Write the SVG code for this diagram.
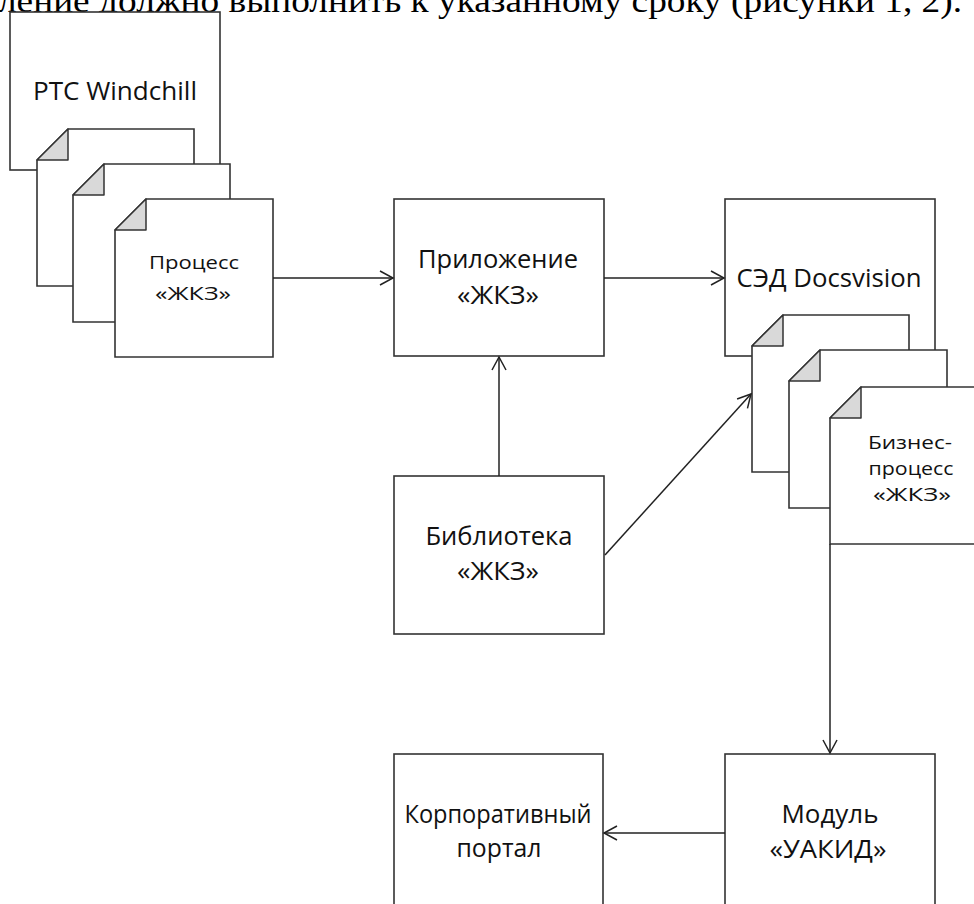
<svg xmlns="http://www.w3.org/2000/svg" width="974" height="904" viewBox="0 0 974 904">
<defs>
<marker id="arr" markerUnits="userSpaceOnUse" markerWidth="16" markerHeight="16" refX="13" refY="7" orient="auto" overflow="visible">
<path d="M0,0 L13,7 L0,14" fill="none" stroke="#222" stroke-width="1.5"/>
</marker>
<style>
.box{fill:#fff;stroke:#333;stroke-width:1.6}
.fold{fill:#d9d9d9;stroke:#333;stroke-width:1.5;stroke-linejoin:round}
.lbl{font-family:"Open Sans","Liberation Sans",sans-serif;fill:#111;text-anchor:middle}
.big{font-size:25px}
.sm{font-size:19px}
.edge{fill:none;stroke:#222;stroke-width:1.5;marker-end:url(#arr)}
.top{font-family:"Liberation Serif","Times New Roman",serif;font-size:34px;fill:#000}
</style>
</defs>
<rect width="974" height="904" fill="#fff"/>
<text class="top" x="-2" y="12" textLength="964" lengthAdjust="spacingAndGlyphs">ление должно выполнить к указанному сроку (рисунки 1, 2).</text>

<g id="ptc">
<rect class="box" x="10" y="12" width="210" height="158"/>
<text class="lbl big" x="115" y="100" textLength="164" lengthAdjust="spacingAndGlyphs">PTC Windchill</text>
</g>
<g id="doc1">
<path class="box" d="M68,129 L194,129 L194,286 L37,286 L37,160 Z"/>
<path class="fold" d="M68,129 L68,160 L37,160 Z"/>
</g>
<g id="doc2">
<path class="box" d="M104,164 L230,164 L230,322 L73,322 L73,195 Z"/>
<path class="fold" d="M104,164 L104,195 L73,195 Z"/>
</g>
<g id="doc3">
<path class="box" d="M146,199 L273,199 L273,357 L115,357 L115,230 Z"/>
<path class="fold" d="M146,199 L146,230 L115,230 Z"/>
<text class="lbl sm" x="194" y="269" textLength="90" lengthAdjust="spacingAndGlyphs">Процесс</text>
<text class="lbl sm" x="193" y="300" textLength="76" lengthAdjust="spacingAndGlyphs">«ЖКЗ»</text>
</g>

<g id="app">
<rect class="box" x="394" y="199" width="210" height="157"/>
<text class="lbl big" x="498" y="268" textLength="160" lengthAdjust="spacingAndGlyphs">Приложение</text>
<text class="lbl big" x="498" y="304" textLength="82" lengthAdjust="spacingAndGlyphs">«ЖКЗ»</text>
</g>

<g id="sed">
<rect class="box" x="725" y="199" width="210" height="157"/>
<text class="lbl big" x="829" y="287" textLength="185" lengthAdjust="spacingAndGlyphs">СЭД Docsvision</text>
</g>
<g id="docA">
<path class="box" d="M783,315 L909,315 L909,472 L752,472 L752,346 Z"/>
<path class="fold" d="M783,315 L783,346 L752,346 Z"/>
</g>
<g id="docB">
<path class="box" d="M820,350 L947,350 L947,508 L789,508 L789,381 Z"/>
<path class="fold" d="M820,350 L820,381 L789,381 Z"/>
</g>
<g id="docC">
<path class="box" d="M861,387 L988,387 L988,544 L830,544 L830,418 Z"/>
<path class="fold" d="M861,387 L861,418 L830,418 Z"/>
<text class="lbl sm" x="910" y="449" textLength="84" lengthAdjust="spacingAndGlyphs">Бизнес-</text>
<text class="lbl sm" x="911" y="475" textLength="85" lengthAdjust="spacingAndGlyphs">процесс</text>
<text class="lbl sm" x="912" y="501" textLength="78" lengthAdjust="spacingAndGlyphs">«ЖКЗ»</text>
</g>

<g id="lib">
<rect class="box" x="394" y="476" width="210" height="158"/>
<text class="lbl big" x="499" y="545" textLength="147" lengthAdjust="spacingAndGlyphs">Библиотека</text>
<text class="lbl big" x="498" y="580" textLength="82" lengthAdjust="spacingAndGlyphs">«ЖКЗ»</text>
</g>

<g id="portal">
<rect class="box" x="394" y="754" width="209" height="200"/>
<text class="lbl big" x="498" y="823" textLength="187" lengthAdjust="spacingAndGlyphs">Корпоративный</text>
<text class="lbl big" x="499" y="857" textLength="85" lengthAdjust="spacingAndGlyphs">портал</text>
</g>

<g id="uakid">
<rect class="box" x="725" y="754" width="210" height="200"/>
<text class="lbl big" x="830" y="823" textLength="97" lengthAdjust="spacingAndGlyphs">Модуль</text>
<text class="lbl big" x="828" y="858" textLength="117" lengthAdjust="spacingAndGlyphs">«УАКИД»</text>
</g>

<g id="connectors">
<path class="edge" d="M273,278 L393,278"/>
<path class="edge" d="M604,278 L724,278"/>
<path class="edge" d="M499,476 L499,357"/>
<path class="edge" d="M605,555 L751,394"/>
<path class="edge" d="M830,544 L830,753"/>
<path class="edge" d="M725,833 L604,833"/>
</g>
</svg>
